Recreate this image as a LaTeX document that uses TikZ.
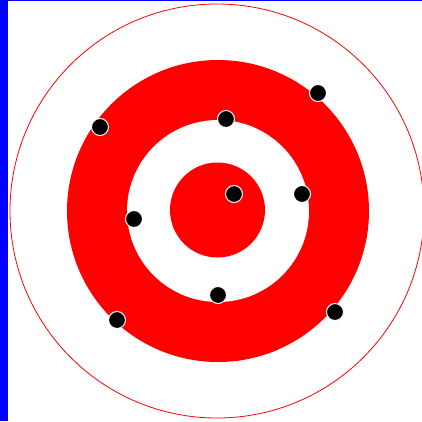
\documentclass[tikz,border=0pt]{standalone}
\begin{document}
\begin{tikzpicture}[x=1pt,y=-1pt,
  ring/.style={fill=red,draw=none},
  hole/.style={fill=white,draw=none},
  dot/.style={circle,fill=black,draw=white,line width=1pt,minimum size=17pt,inner sep=0pt}]
\useasboundingbox (0,0) rectangle (422,421);
\fill[white] (0,0) rectangle (422,421);
\draw[red,line width=0.8pt] (217,211) circle (207);
\fill[ring] (218,211) circle (151);
\fill[hole] (218,211) circle (91);
\fill[ring] (217.5,210) circle (47.5);
\fill[blue] (0,0) rectangle (7.5,421);
\fill[blue] (0,0) rectangle (422,1.2);
\node[dot] (d1) at (234,194) {};
\node[dot] (d2) at (302,194) {};
\node[dot] (d3) at (226,119) {};
\node[dot] (d4) at (134,219) {};
\node[dot] (d5) at (218,295) {};
\node[dot] (d6) at (100,127) {};
\node[dot] (d7) at (318,93) {};
\node[dot] (d8) at (117,320) {};
\node[dot] (d9) at (335,312) {};
\end{tikzpicture}
\end{document}
